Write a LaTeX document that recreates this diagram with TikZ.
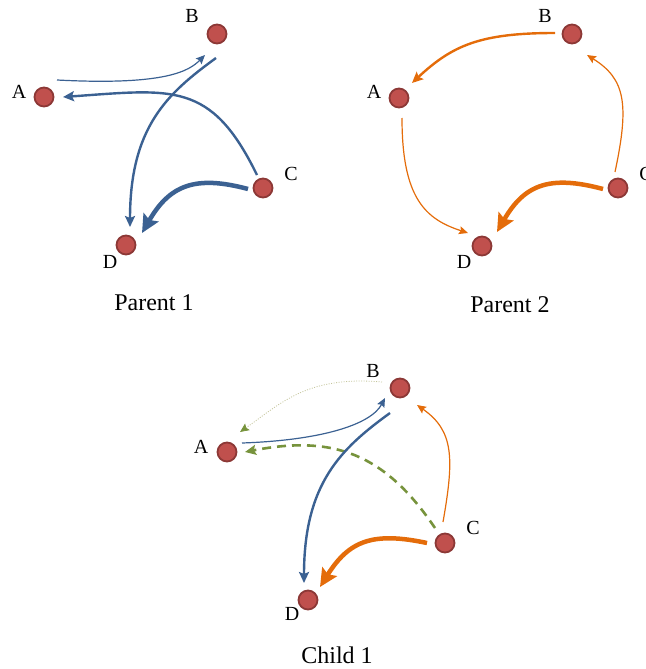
\documentclass[tikz,border=0pt]{standalone}
\usepackage{fontspec}
\setmainfont{Liberation Serif}
\usepackage{xcolor}
\usepackage{tikz}
\usetikzlibrary{calc,arrows.meta}
\definecolor{vfill}{HTML}{C0504D}
\definecolor{vline}{HTML}{8C3836}
\definecolor{blueE}{HTML}{3B6192}
\definecolor{orangeE}{HTML}{E46C0A}
\definecolor{greenE}{HTML}{77933C}
\definecolor{dotcol}{HTML}{C4C59B}
\tikzset{
  vtx/.style={circle, draw=vline, fill=vfill, line width=1.8pt, minimum size=19pt, inner sep=0pt},
  lab/.style={font=\fontsize{20}{22}\selectfont},
  captxt/.style={font=\fontsize{24}{28}\selectfont},
  thinE/.style={line width=1.2pt, -{Stealth[length=9pt, width=8pt, inset=1.5pt]}},
  midE/.style={line width=2.4pt, -{Stealth[length=11pt, width=10pt, inset=2pt]}},
  thickE/.style={line width=4.5pt, -{Stealth[length=18pt, width=17pt, inset=3pt]}},
  dashE/.style={draw=greenE, line width=2.6pt, dash pattern=on 9pt off 6pt, -{Stealth[length=11pt, width=10pt, inset=2pt]}},
  dotE/.style={draw=dotcol, line width=0.8pt, dash pattern=on 1pt off 1.5pt, -{Stealth[length=9pt, width=8pt, inset=1.5pt, color=greenE]}}
}

\begin{document}
\begin{tikzpicture}[x=1pt, y=1pt]
  \useasboundingbox (0,0) rectangle (645,-669);

  % Parent 1
  \begin{scope}
    \node[vtx] (p1A) at (44,-97) {};
    \node[vtx] (p1B) at (217,-34) {};
    \node[vtx] (p1C) at (263,-188) {};
    \node[vtx] (p1D) at (126,-245) {};
    \node[lab] (p1Alab) at (19,-92) {A};
    \node[lab] (p1Blab) at (192,-16) {B};
    \node[lab] (p1Clab) at (291,-174) {C};
    \node[lab] (p1Dlab) at (110,-262) {D};
    \node[captxt] (cap1) at (154,-303) {Parent 1};

    \draw[thinE, blueE] ($(p1A)+(13,17)$) .. controls +(-3:110) and +(225:22) .. ($(p1B)+(-12,-21)$);
    \draw[midE, blueE] ($(p1C)+(-6,13)$) .. controls +(116:105) and +(4:110) .. ($(p1A)+(19,0)$);
    \draw[midE, blueE] ($(p1B)+(-1,-24)$) .. controls +(216:60) and +(90:100) .. ($(p1D)+(4,18)$);
    \draw[thickE, blueE] ($(p1C)+(-15,-1)$) .. controls +(165:55) and +(60:55) .. ($(p1D)+(16,12)$);
  \end{scope}

  % Parent 2
  \begin{scope}[shift={(355,0)}]
    \node[vtx] (p2A) at (44,-98) {};
    \node[vtx] (p2B) at (217,-34) {};
    \node[vtx] (p2C) at (263,-188) {};
    \node[vtx] (p2D) at (127,-246) {};
    \node[lab] (p2Alab) at (19,-92) {A};
    \node[lab] (p2Blab) at (190,-16) {B};
    \node[lab] (p2Clab) at (291,-174) {C};
    \node[lab] (p2Dlab) at (109,-262) {D};
    \node[captxt] (cap2) at (155,-305) {Parent 2};

    \draw[midE, orangeE] ($(p2B)+(-17,1)$) .. controls +(180:75) and +(43:55) .. ($(p2A)+(13,15)$);
    \draw[thinE, orangeE] ($(p2A)+(3,-20)$) .. controls +(270:80) and +(162:45) .. ($(p2D)+(-14,13)$);
    \draw[thinE, orangeE] ($(p2C)+(-3,16)$) .. controls +(78:70) and +(-32:45) .. ($(p2B)+(15,-21)$);
    \draw[thickE, orangeE] ($(p2C)+(-15,-1)$) .. controls +(165:55) and +(60:55) .. ($(p2D)+(15,14)$);
  \end{scope}

  % Child 1
  \begin{scope}[shift={(183,-355)}]
    \node[vtx] (c1A) at (44,-97) {};
    \node[vtx] (c1B) at (217,-33) {};
    \node[vtx] (c1C) at (262,-188) {};
    \node[vtx] (c1D) at (125,-245) {};
    \node[lab] (c1Alab) at (18,-92) {A};
    \node[lab] (c1Blab) at (190,-16) {B};
    \node[lab] (c1Clab) at (290,-173) {C};
    \node[lab] (c1Dlab) at (109,-259) {D};
    \node[captxt] (cap3) at (154,-300) {Child 1};

    \draw[dotE] ($(c1B)+(-18,6)$) .. controls +(175:75) and +(35:50) .. ($(c1A)+(13,20)$);
    \draw[thinE, blueE] ($(c1A)+(15,9)$) .. controls +(2:80) and +(242:30) .. ($(c1B)+(-15,-10)$);
    \draw[dashE] ($(c1C)+(-10,15)$) .. controls +(124:90) and +(11:90) .. ($(c1A)+(18,0)$);
    \draw[midE, blueE] ($(c1B)+(-10,-25)$) .. controls +(216:60) and +(90:100) .. ($(c1D)+(-4,17)$);
    \draw[thinE, orangeE] ($(c1C)+(-2,21)$) .. controls +(80:65) and +(-35:45) .. ($(c1B)+(17,-17)$);
    \draw[thickE, orangeE] ($(c1C)+(-18,0)$) .. controls +(168:55) and +(58:55) .. ($(c1D)+(12,13)$);
  \end{scope}
\end{tikzpicture}
\end{document}
